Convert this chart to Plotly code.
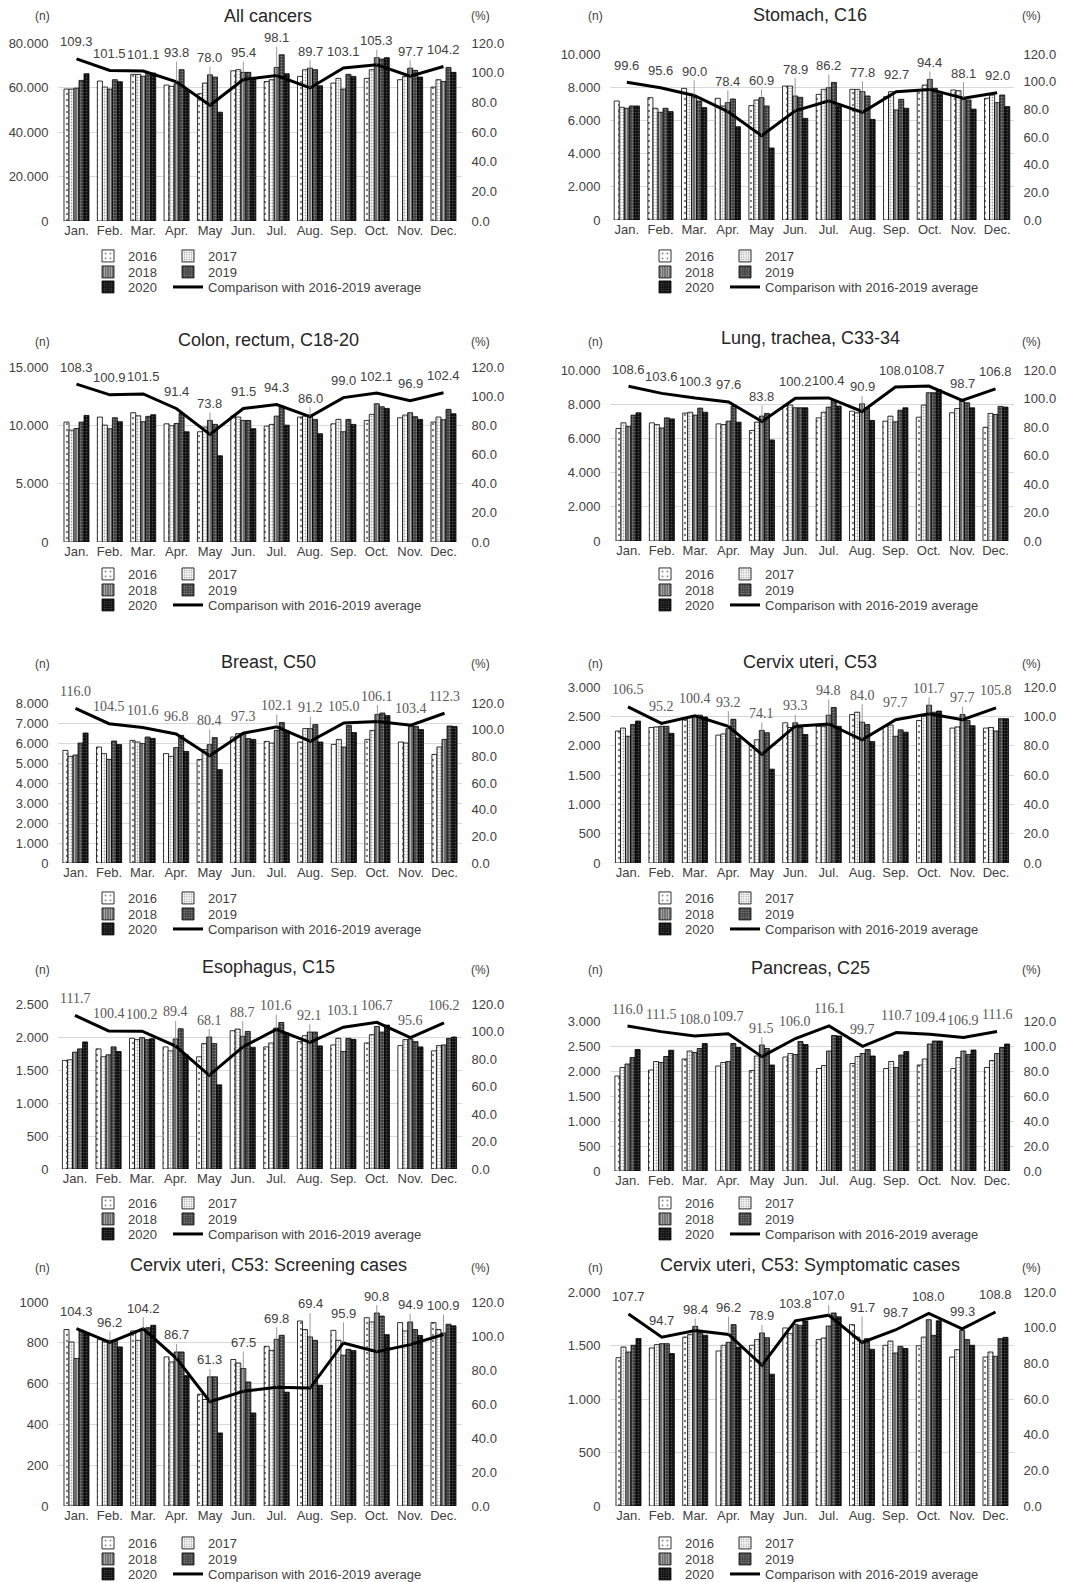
import plotly.graph_objects as go

W, H = 1076, 1582

months = ["Jan.", "Feb.", "Mar.", "Apr.", "May", "Jun.", "Jul.", "Aug.", "Sep.", "Oct.", "Nov.", "Dec."]
years = ["2016", "2017", "2018", "2019", "2020"]
line_name = "Comparison with 2016-2019 average"

# Monthly case counts, one list per year (2016..2020), and 2020 as % of the 2016-2019 average
all_cancers_n = [
    [59300, 62900, 65900, 61100, 57200, 67500, 62700, 65000, 62000, 64100, 63500, 60200],
    [59300, 60200, 65900, 60500, 62000, 68000, 63500, 68000, 64100, 68000, 65000, 63500],
    [59700, 59300, 65100, 61700, 65700, 66800, 69000, 68700, 59300, 73400, 68700, 62700],
    [63200, 63500, 66500, 68000, 64700, 66800, 74700, 68000, 65900, 72800, 67700, 69000],
    [66200, 62600, 66500, 58900, 48900, 64200, 66200, 60800, 65000, 73400, 64700, 66800],
]
all_cancers_pct = [109.3, 101.5, 101.1, 93.8, 78.0, 95.4, 98.1, 89.7, 103.1, 105.3, 97.7, 104.2]

stomach_n = [
    [7170, 7370, 7930, 7330, 6890, 8070, 7570, 7870, 7430, 7830, 7830, 7330],
    [6790, 6730, 7590, 6870, 7230, 8070, 7870, 7870, 7730, 8130, 7790, 7530],
    [6730, 6490, 7370, 7070, 7370, 7470, 7970, 7730, 6630, 8470, 7270, 7070],
    [6870, 6730, 7170, 7290, 6870, 7390, 8290, 7470, 7270, 7930, 7230, 7530],
    [6870, 6530, 6770, 5620, 4340, 6120, 6870, 6060, 6730, 7600, 6680, 6830],
]
stomach_pct = [99.6, 95.6, 90.0, 78.4, 60.9, 78.9, 86.2, 77.8, 92.7, 94.4, 88.1, 92.0]

colon_n = [
    [10280, 10710, 11080, 10130, 9450, 10790, 9930, 10710, 10130, 10420, 10650, 10280],
    [9590, 10020, 10820, 9960, 9850, 10710, 10080, 10790, 10510, 10940, 10880, 10710],
    [9730, 9710, 10310, 10160, 10420, 10420, 10790, 10880, 9450, 11850, 11080, 10480],
    [10280, 10650, 10770, 11020, 10080, 10420, 11650, 10510, 10510, 11590, 10740, 11370],
    [10850, 10310, 10910, 9450, 7390, 9710, 10020, 9280, 10080, 11450, 10510, 10990],
]
colon_pct = [108.3, 100.9, 101.5, 91.4, 73.8, 91.5, 94.3, 86.0, 99.0, 102.1, 96.9, 102.4]

lung_n = [
    [6580, 6910, 7480, 6850, 6460, 7890, 7200, 7590, 7010, 7240, 7500, 6650],
    [6910, 6810, 7530, 6810, 6950, 7950, 7530, 7500, 7300, 7950, 7750, 7460],
    [6710, 6610, 7360, 7010, 7300, 7790, 7830, 8020, 6970, 8670, 8180, 7400],
    [7360, 7200, 7770, 7890, 7460, 7790, 8220, 7790, 7650, 8670, 8080, 7870],
    [7500, 7140, 7530, 6950, 5910, 7790, 7890, 7050, 7790, 8860, 7790, 7830],
]
lung_pct = [108.6, 103.6, 100.3, 97.6, 83.8, 100.2, 100.4, 90.9, 108.0, 108.7, 98.7, 106.8]

breast_n = [
    [5630, 5800, 6130, 5470, 5170, 6300, 6080, 6050, 5930, 6180, 6050, 5430],
    [5330, 5470, 6050, 5330, 5670, 6470, 6000, 6720, 6180, 6630, 6000, 5800],
    [5400, 5180, 5970, 5770, 5920, 6470, 6630, 6720, 5800, 7430, 6830, 6180],
    [6000, 6100, 6300, 6380, 6270, 6220, 7020, 6920, 6880, 7500, 6830, 6850],
    [6500, 5920, 6230, 5580, 4670, 6180, 6600, 6050, 6520, 7370, 6670, 6830],
]
breast_pct = [116.0, 104.5, 101.6, 96.8, 80.4, 97.3, 102.1, 91.2, 105.0, 106.1, 103.4, 112.3]

cervix_n = [
    [2250, 2310, 2440, 2180, 2000, 2390, 2330, 2530, 2330, 2430, 2300, 2300],
    [2300, 2320, 2480, 2200, 2100, 2310, 2330, 2570, 2350, 2500, 2320, 2310],
    [2160, 2330, 2500, 2290, 2260, 2390, 2520, 2400, 2160, 2690, 2530, 2250],
    [2360, 2330, 2520, 2450, 2220, 2310, 2650, 2360, 2270, 2570, 2430, 2460],
    [2420, 2210, 2490, 2130, 1600, 2190, 2330, 2070, 2230, 2590, 2340, 2460],
]
cervix_pct = [106.5, 95.2, 100.4, 93.2, 74.1, 93.3, 94.8, 84.0, 97.7, 101.7, 97.7, 105.8]

esophagus_n = [
    [1645, 1820, 1980, 1850, 1700, 2095, 1850, 1930, 1880, 1910, 1870, 1790],
    [1655, 1700, 1960, 1790, 1900, 2120, 1910, 2020, 1980, 2035, 1960, 1870],
    [1770, 1730, 1990, 1970, 2000, 2010, 2135, 2075, 1780, 2160, 1970, 1880],
    [1820, 1850, 1960, 2125, 1900, 2085, 2220, 2075, 1980, 2075, 1930, 1980],
    [1925, 1780, 1975, 1730, 1275, 1845, 2060, 1865, 1965, 2180, 1850, 2000],
]
esophagus_pct = [111.7, 100.4, 100.2, 89.4, 68.1, 88.7, 101.6, 92.1, 103.1, 106.7, 95.6, 106.2]

pancreas_n = [
    [1900, 2020, 2240, 2100, 2010, 2280, 2050, 2150, 2050, 2120, 2050, 2070],
    [2070, 2190, 2400, 2170, 2300, 2350, 2110, 2290, 2190, 2240, 2270, 2210],
    [2140, 2170, 2370, 2190, 2520, 2330, 2400, 2350, 2070, 2540, 2400, 2350],
    [2270, 2290, 2450, 2550, 2450, 2590, 2710, 2430, 2320, 2600, 2330, 2470],
    [2430, 2415, 2550, 2470, 2120, 2530, 2700, 2300, 2390, 2600, 2420, 2540],
]
pancreas_pct = [116.0, 111.5, 108.0, 109.7, 91.5, 106.0, 116.1, 99.7, 110.7, 109.4, 106.9, 111.6]

screening_n = [
    [865, 816, 858, 731, 548, 718, 783, 907, 861, 923, 899, 899],
    [804, 804, 812, 706, 522, 701, 763, 865, 812, 902, 858, 865],
    [723, 812, 861, 755, 633, 674, 817, 829, 739, 946, 902, 848],
    [861, 812, 874, 755, 633, 608, 837, 812, 768, 931, 865, 891],
    [848, 780, 886, 639, 358, 456, 558, 592, 762, 840, 836, 883],
]
screening_pct = [104.3, 96.2, 104.2, 86.7, 61.3, 67.5, 69.8, 69.4, 95.9, 90.8, 94.9, 100.9]

symptomatic_n = [
    [1386, 1477, 1579, 1449, 1502, 1664, 1555, 1695, 1502, 1498, 1392, 1392],
    [1486, 1508, 1604, 1502, 1555, 1611, 1570, 1579, 1542, 1579, 1461, 1439],
    [1439, 1517, 1679, 1530, 1617, 1698, 1682, 1548, 1430, 1741, 1642, 1399],
    [1502, 1517, 1626, 1695, 1573, 1688, 1804, 1564, 1492, 1595, 1555, 1564],
    [1565, 1425, 1596, 1485, 1232, 1729, 1768, 1465, 1472, 1731, 1502, 1576],
]
symptomatic_pct = [107.7, 94.7, 98.4, 96.2, 78.9, 103.8, 107.0, 91.7, 98.7, 108.0, 99.3, 108.8]

# Panel layout (pixel geometry of each plot area)
panels = [
    dict(title="All cancers", n=all_cancers_n, pct=all_cancers_pct, nmax=80000, step=20000,
         dots=True, serif=False, col=0, top=43, bottom=221, ty=16, uy=16, ly=256),
    dict(title="Stomach, C16", n=stomach_n, pct=stomach_pct, nmax=10000, step=2000,
         dots=True, serif=False, col=1, top=54, bottom=220, ty=15, uy=16, ly=256),
    dict(title="Colon, rectum, C18-20", n=colon_n, pct=colon_pct, nmax=15000, step=5000,
         dots=True, serif=False, col=0, top=367, bottom=542, ty=340, uy=342, ly=574),
    dict(title="Lung, trachea, C33-34", n=lung_n, pct=lung_pct, nmax=10000, step=2000,
         dots=True, serif=False, col=1, top=370, bottom=541, ty=338, uy=342, ly=574),
    dict(title="Breast, C50", n=breast_n, pct=breast_pct, nmax=8000, step=1000,
         dots=True, serif=True, col=0, top=703, bottom=863, ty=662, uy=664, ly=898),
    dict(title="Cervix uteri, C53", n=cervix_n, pct=cervix_pct, nmax=3000, step=500,
         dots=True, serif=True, col=1, top=687, bottom=863, ty=662, uy=664, ly=898),
    dict(title="Esophagus, C15", n=esophagus_n, pct=esophagus_pct, nmax=2500, step=500,
         dots=True, serif=True, col=0, top=1004, bottom=1169, ty=967, uy=970, ly=1203),
    dict(title="Pancreas, C25", n=pancreas_n, pct=pancreas_pct, nmax=3000, step=500,
         dots=True, serif=True, col=1, top=1021, bottom=1171, ty=968, uy=970, ly=1203),
    dict(title="Cervix uteri, C53: Screening cases", n=screening_n, pct=screening_pct, nmax=1000, step=200,
         dots=False, serif=False, col=0, top=1302, bottom=1506, ty=1265, uy=1268, ly=1543),
    dict(title="Cervix uteri, C53: Symptomatic cases", n=symptomatic_n, pct=symptomatic_pct, nmax=2000, step=500,
         dots=True, serif=False, col=1, top=1292, bottom=1506, ty=1265, uy=1268, ly=1543),
]

COL_X = [(58, 462), (610, 1014)]
TITLE_X = [268, 810]
N_X = [42, 595]
P_X = [480, 1031]
LEG_TEXT_X = [(128, 208), (685, 765)]
LEG_ROWS = [0, 16, 31]
LABEL_GAP = 17

SANS = "Liberation Sans, Arial, sans-serif"
SERIF = "Liberation Serif, Times New Roman, serif"
TXT = "#404040"

bar_styles = [
    dict(color="#ffffff", pattern=dict(shape=".", fgcolor="#000000", size=6, solidity=0.12)),
    dict(color="#ffffff", pattern=dict(shape=".", fgcolor="#4a4a4a", size=3, solidity=0.35)),
    dict(color="#6e6e6e", pattern=dict(shape="|", fgcolor="#f0f0f0", size=3, solidity=0.35)),
    dict(color="#3a3a3a", pattern=dict(shape=".", fgcolor="#c8c8c8", size=3, solidity=0.4)),
    dict(color="#101010", pattern=dict(shape=".", fgcolor="#8a8a8a", size=3, solidity=0.25)),
]


def fx(px):
    return px / W


def fy(px):
    return 1 - px / H


def suffix(i):
    return "" if i == 1 else str(i)


def fmt_n(v, dots):
    s = f"{v:,}"
    return s.replace(",", ".") if dots else s.replace(",", "")


fig = go.Figure()
layout = dict(
    width=W, height=H, margin=dict(l=0, r=0, t=0, b=0, autoexpand=False),
    paper_bgcolor="white", plot_bgcolor="white",
    font=dict(family=SANS, size=13, color=TXT),
    barmode="group", bargap=0.25, bargroupgap=0.0,
    hovermode=False,
)
annotations = []
legend_idx = 0


def new_legend(pos):
    global legend_idx
    legend_idx += 1
    lid = "legend" + suffix(legend_idx)
    layout[lid] = dict(
        x=fx(pos[0] - 40), y=fy(pos[1]), xanchor="left", yanchor="middle",
        bgcolor="rgba(0,0,0,0)", borderwidth=0,
        font=dict(size=13, color=TXT, family=SANS),
    )
    return lid


for k, p in enumerate(panels, start=1):
    xa = "x" + suffix(k)
    ya = "y" + suffix(2 * k - 1)
    ya2 = "y" + suffix(2 * k)
    x0, x1 = COL_X[p["col"]]
    height_px = p["bottom"] - p["top"]

    layout["xaxis" + suffix(k)] = dict(
        domain=[fx(x0), fx(x1)], anchor=ya, type="category",
        categoryorder="array", categoryarray=months, automargin=False,
        showgrid=False, zeroline=False, showline=False, ticks="",
        tickfont=dict(size=13, color=TXT, family=SANS),
    )
    tickvals = list(range(0, p["nmax"] + 1, p["step"]))
    layout["yaxis" + suffix(2 * k - 1)] = dict(
        domain=[fy(p["bottom"]), fy(p["top"])], anchor=xa, automargin=False,
        range=[0, p["nmax"]], tickvals=tickvals,
        ticktext=[fmt_n(v, p["dots"]) for v in tickvals],
        showgrid=True, gridcolor="#d9d9d9", gridwidth=1, zeroline=False, showline=False,
        ticks="outside", ticklen=6, tickcolor="rgba(0,0,0,0)",
        tickfont=dict(size=13, color=TXT, family=SANS),
    )
    layout["yaxis" + suffix(2 * k)] = dict(
        overlaying=ya, side="right", anchor=xa, automargin=False,
        range=[0, 120], tickvals=list(range(0, 121, 20)), tickformat=".1f",
        showgrid=False, zeroline=False, showline=False,
        ticks="outside", ticklen=6, tickcolor="rgba(0,0,0,0)",
        tickfont=dict(size=13, color=TXT, family=SANS),
    )

    tx1, tx2 = LEG_TEXT_X[p["col"]]
    leg_pos = [
        (tx1, p["ly"] + LEG_ROWS[0]), (tx2, p["ly"] + LEG_ROWS[0]),
        (tx1, p["ly"] + LEG_ROWS[1]), (tx2, p["ly"] + LEG_ROWS[1]),
        (tx1, p["ly"] + LEG_ROWS[2]), (tx2, p["ly"] + LEG_ROWS[2]),
    ]

    # bars: one trace per year
    for yi, yr in enumerate(years):
        st = bar_styles[yi]
        fig.add_trace(go.Bar(
            x=months, y=p["n"][yi], name=yr, xaxis=xa, yaxis=ya,
            marker=dict(color=st["color"], pattern=st["pattern"],
                        line=dict(color="#000000", width=0.8)),
            legend=new_legend(leg_pos[yi]), showlegend=True,
        ))

    # ratio line on the right axis
    fig.add_trace(go.Scatter(
        x=months, y=p["pct"], name=line_name, mode="lines",
        xaxis=xa, yaxis=ya2, line=dict(color="#000000", width=3),
        legend=new_legend(leg_pos[5]), showlegend=True,
    ))

    # value labels for the ratio line, lifted above the bars where they would overlap
    lab_font = dict(family=SERIF, size=14, color="#595959") if p["serif"] else dict(family=SANS, size=13, color=TXT)
    per_px = 120.0 / height_px
    for mi, m in enumerate(months):
        v = p["pct"][mi]
        bar_top = max(p["n"][yi][mi] for yi in range(5)) / p["nmax"] * 120.0
        txt = f"{v:.1f}"
        if bar_top > v + 1.0:
            label_y = bar_top + LABEL_GAP * per_px
            annotations.append(dict(
                x=m, y=v, xref=xa, yref=ya2, ax=m, ay=label_y, axref=xa, ayref=ya2,
                text=txt, showarrow=True, arrowhead=0, arrowwidth=0.8, arrowcolor="#808080",
                standoff=0, font=lab_font,
            ))
        else:
            annotations.append(dict(
                x=m, y=v, xref=xa, yref=ya2, yshift=LABEL_GAP, text=txt, showarrow=False,
                xanchor="center", yanchor="middle", font=lab_font,
            ))

    # panel title and unit markers
    annotations.append(dict(
        x=fx(TITLE_X[p["col"]]), y=fy(p["ty"]), xref="paper", yref="paper",
        text=p["title"], showarrow=False, xanchor="center", yanchor="middle",
        font=dict(family=SANS, size=18, color="#262626"),
    ))
    annotations.append(dict(
        x=fx(N_X[p["col"]]), y=fy(p["uy"]), xref="paper", yref="paper",
        text="(n)", showarrow=False, xanchor="center", yanchor="middle",
        font=dict(family=SANS, size=12, color=TXT),
    ))
    annotations.append(dict(
        x=fx(P_X[p["col"]]), y=fy(p["uy"]), xref="paper", yref="paper",
        text="(%)", showarrow=False, xanchor="center", yanchor="middle",
        font=dict(family=SANS, size=12, color=TXT),
    ))

layout["annotations"] = annotations
fig.update_layout(**layout)
fig.write_html("out.html")
